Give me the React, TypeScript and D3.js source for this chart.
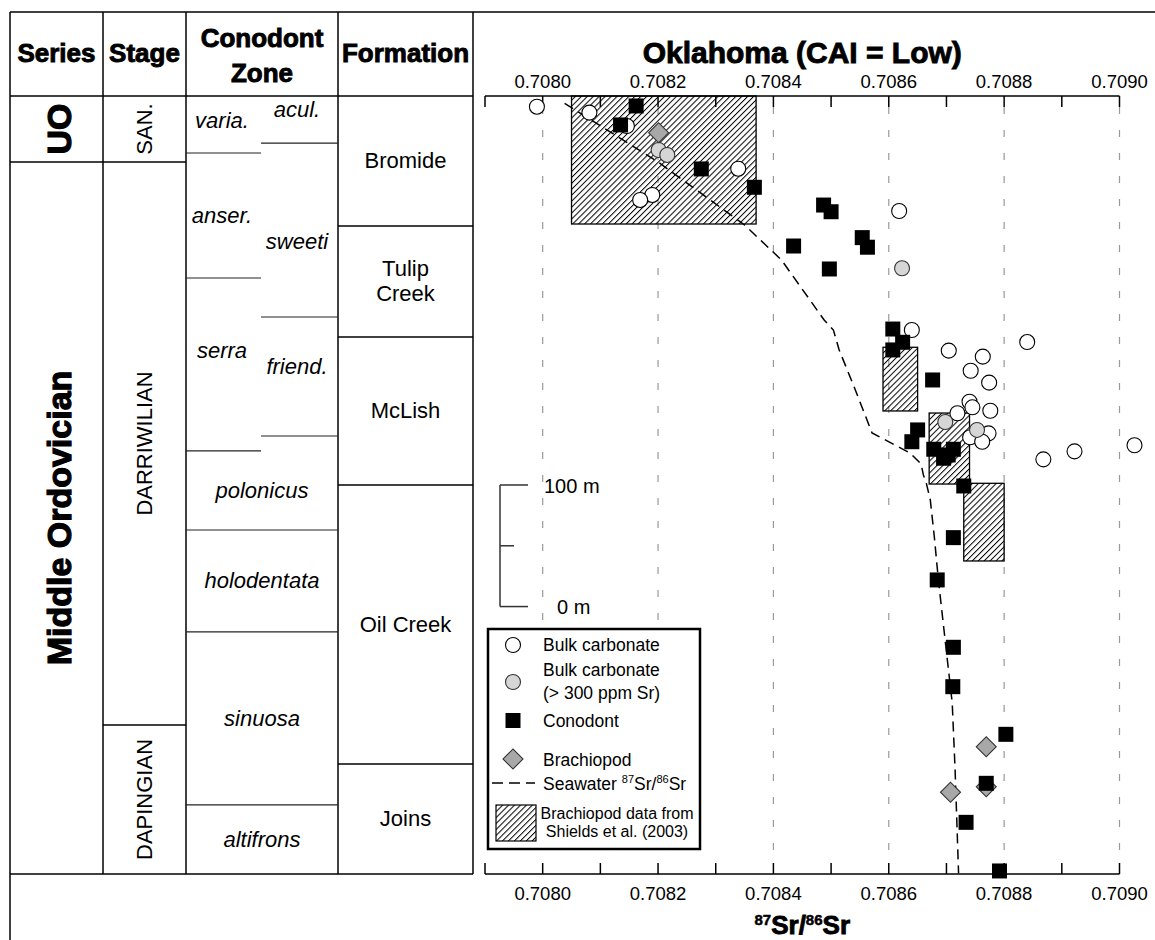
import React from 'react'
import * as d3 from 'd3'

// 87Sr/86Sr against stratigraphic height (m above the base of the section)
const ratioDomain: [number, number] = [0.7079, 0.709]
const heightDomain: [number, number] = [0, 640]
const axisLabels = ['0.7080', '0.7082', '0.7084', '0.7086', '0.7088', '0.7090']

const bulkCarbonate: [number, number][] = [
	[0.70799, 631.2], [0.708081, 626.3], [0.708146, 615.3], [0.708339, 580.2],
	[0.70819, 558.6], [0.708169, 554.5], [0.708618, 545.4], [0.70864, 447.5],
	[0.708704, 430.5], [0.708763, 425.6], [0.708742, 414.0], [0.708774, 404.2],
	[0.70874, 388.5], [0.708745, 383.9], [0.708719, 379.0], [0.708776, 381.1],
	[0.708741, 359.3], [0.708773, 362.5], [0.708762, 355.6], [0.70884, 437.6],
	[0.708868, 341.1], [0.708922, 347.7], [0.709026, 352.7]
]

const bulkHighSr: [number, number][] = [
	[0.708201, 595.6], [0.708216, 591.5], [0.708623, 498.3], [0.708698, 371.8], [0.708753, 365.3]
]

const brachiopod: [number, number][] = [
	[0.708201, 609.8], [0.708769, 104.7], [0.708769, 71.8], [0.708707, 67.2]
]

const conodont: [number, number][] = [
	[0.708162, 631.8], [0.708135, 616.2], [0.708275, 580.0], [0.708367, 564.9],
	[0.708435, 516.6], [0.708487, 550.3], [0.7085, 544.8], [0.708554, 523.5],
	[0.708563, 515.6], [0.708497, 497.7], [0.708607, 448.3], [0.708624, 437.4],
	[0.708607, 431.1], [0.708676, 406.4], [0.70865, 365.3], [0.70864, 355.6],
	[0.708678, 349.4], [0.708712, 349.4], [0.708695, 342.0], [0.708703, 344.7],
	[0.70873, 319.2], [0.708712, 276.7], [0.708684, 241.9], [0.708712, 186.5],
	[0.708711, 154.1], [0.708803, 114.9], [0.708769, 74.6], [0.708734, 42.5],
	[0.708792, 2.5]
]

const seawater: [number, number][] = [
	[0.708038, 634.0], [0.7082, 585.7], [0.70835, 533.9], [0.708414, 505.1],
	[0.708488, 455.7], [0.708504, 447.5], [0.708514, 431.1], [0.70854, 400.6],
	[0.708571, 362.8], [0.708637, 346.3], [0.708656, 337.3], [0.70866, 328.3],
	[0.708665, 321.7], [0.708672, 307.7], [0.708679, 277.2], [0.708686, 241.9],
	[0.708701, 178.5], [0.70871, 140.7], [0.708715, 85.6], [0.708721, 0.6]
]

// Shields et al. (2003): [ratio min, ratio max, height base, height top]
const shieldsBoxes: [number, number, number, number][] = [
	[0.70805, 0.70837, 534.7, 640],
	[0.70859, 0.70865, 380.9, 433.3],
	[0.70867, 0.70874, 320.8, 379.2],
	[0.70873, 0.7088, 257.5, 321.4]
]

// stratigraphy: [name, top, base] in m
const seriesUnits: [string, number, number][] = [
	['UO', 640, 585.7],
	['Middle Ordovician', 585.7, 0]
]
const stages: [string, number, number][] = [
	['SAN.', 640, 585.7],
	['DARRIWILIAN', 585.7, 122.6],
	['DAPINGIAN', 122.6, 0]
]
const zonesLeft: [string, number, number][] = [
	['varia.', 640, 593.1],
	['anser.', 593.1, 490.3],
	['serra', 490.3, 348.0]
]
const zonesRight: [string, number, number][] = [
	['acul.', 640, 601.3],
	['sweeti', 601.3, 458.2],
	['friend.', 458.2, 360.3]
]
const zonesFull: [string, number, number][] = [
	['polonicus', 348.0, 283.0],
	['holodentata', 283.0, 199.1],
	['sinuosa', 199.1, 56.8],
	['altifrons', 56.8, 0]
]
const formations: [string, number, number][] = [
	['Bromide', 640, 533.1],
	['Tulip Creek', 533.1, 441.8],
	['McLish', 441.8, 320.0],
	['Oil Creek', 320.0, 90.5],
	['Joins', 90.5, 0]
]

const scaleBarBase = 220
const scaleBarLength = 100

const FONT = 'Liberation Sans, Arial, Helvetica, sans-serif'

// small hand nudges for the split zone labels (px)
const zoneLabelShift: Record<string, number> = {
	'varia.': -4, 'acul.': -10, 'anser.': 0, sweeti: 11, serra: -14, 'friend.': -10
}

const App = () => {
	const x = d3.scaleLinear().domain(ratioDomain).range([485, 1119.5])
	const y = d3.scaleLinear().domain(heightDomain).range([874, 96])
	const ticks = x.ticks(11)
	const labelVals = axisLabels.map(Number)
	const fmt = d3.format('.4f')

	const seaPath = d3.line<[number, number]>().x((d) => x(d[0])).y((d) => y(d[1]))(seawater) || ''
	const square = d3.symbol().type(d3.symbolSquare).size(225)() || ''
	const diamond = d3.symbol().type(d3.symbolSquare).size(200)() || ''

	const col = [10, 103, 186, 338, 473]
	const zoneSplit = 261
	const xLeft = x.range()[0]
	const xRight = x.range()[1]
	const top = y(heightDomain[1])
	const bottom = y(heightDomain[0])

	const tableText = { fontFamily: FONT, fontSize: 22, fill: '#000' }
	const boldText = { fontFamily: FONT, fontWeight: 700, fill: '#000', stroke: '#000', strokeWidth: 0.9 }

	return (
		<svg width={1155} height={940} style={{ position: 'absolute', left: 0, top: 0, background: '#fff' }}>
			<defs>
				<pattern id="hatch" width={4.2} height={4.2} patternUnits="userSpaceOnUse" patternTransform="rotate(45)">
					<line x1={0.5} y1={-1} x2={0.5} y2={5.2} stroke="#000" strokeWidth={1} />
				</pattern>
			</defs>

			{/* frame */}
			<line x1={10} x2={1155} y1={12} y2={12} stroke="#000" strokeWidth={1.5} />
			<line x1={10} x2={10} y1={12} y2={940} stroke="#000" strokeWidth={1.5} />
			<line x1={10} x2={col[4]} y1={top} y2={top} stroke="#000" strokeWidth={1.5} />
			<line x1={10} x2={col[4]} y1={bottom} y2={bottom} stroke="#000" strokeWidth={1.5} />
			{col.slice(1).map((c) => (
				<line key={c} x1={c} x2={c} y1={12} y2={bottom} stroke="#000" strokeWidth={1.5} />
			))}

			{/* headers */}
			<g {...boldText} fontSize={26} textAnchor="middle">
				<text x={(col[0] + col[1]) / 2} y={62}>Series</text>
				<text x={(col[1] + col[2]) / 2} y={62}>Stage</text>
				<text x={(col[2] + col[3]) / 2} y={47}>Conodont</text>
				<text x={(col[2] + col[3]) / 2} y={82}>Zone</text>
				<text x={(col[3] + col[4]) / 2} y={62}>Formation</text>
			</g>

			{/* series */}
			{seriesUnits.map(([name, t, b], i) => {
				const cy = (y(t) + y(b)) / 2
				return (
					<g key={name}>
						{i < seriesUnits.length - 1 && (
							<line x1={col[0]} x2={col[2]} y1={y(b)} y2={y(b)} stroke="#000" strokeWidth={1.5} />
						)}
						<text {...boldText} strokeWidth={1.2} fontSize={34} textAnchor="middle" dominantBaseline="central"
							transform={`translate(${(col[0] + col[1]) / 2 + 2},${cy}) rotate(-90)`}>
							{name}
						</text>
					</g>
				)
			})}

			{/* stages */}
			{stages.map(([name, t, b], i) => {
				const cy = (y(t) + y(b)) / 2
				return (
					<g key={name}>
						{i === stages.length - 2 && (
							<line x1={col[1]} x2={col[2]} y1={y(b)} y2={y(b)} stroke="#000" strokeWidth={1.5} />
						)}
						<text {...tableText} textAnchor="middle" dominantBaseline="central"
							transform={`translate(${(col[1] + col[2]) / 2},${cy}) rotate(-90)`}>
							{name}
						</text>
					</g>
				)
			})}

			{/* conodont zones */}
			{zonesLeft.map(([name, t, b]) => (
				<g key={name}>
					<line x1={col[2]} x2={zoneSplit} y1={y(b)} y2={y(b)} stroke="#222" strokeWidth={1.2} />
					<text {...tableText} fontStyle="italic" textAnchor="middle" dominantBaseline="central"
						x={222} y={(y(t) + y(b)) / 2 + (zoneLabelShift[name] || 0)}>{name}</text>
				</g>
			))}
			{zonesRight.map(([name, t, b]) => (
				<g key={name}>
					<line x1={zoneSplit} x2={col[3]} y1={y(b)} y2={y(b)} stroke="#222" strokeWidth={1.2} />
					<text {...tableText} fontStyle="italic" textAnchor="middle" dominantBaseline="central"
						x={297} y={(y(t) + y(b)) / 2 + (zoneLabelShift[name] || 0)}>{name}</text>
				</g>
			))}
			{zonesFull.map(([name, t, b], i) => (
				<g key={name}>
					{i < zonesFull.length - 1 && (
						<line x1={col[2]} x2={col[3]} y1={y(b)} y2={y(b)} stroke="#222" strokeWidth={1.2} />
					)}
					<text {...tableText} fontStyle="italic" textAnchor="middle" dominantBaseline="central"
						x={(col[2] + col[3]) / 2} y={(Math.max(y(t), y(zonesLeft[2][2])) + y(b)) / 2}>{name}</text>
				</g>
			))}

			{/* formations */}
			{formations.map(([name, t, b], i) => {
				const cy = (y(t) + y(b)) / 2
				const words = name === 'Tulip Creek' ? ['Tulip', 'Creek'] : [name]
				return (
					<g key={name}>
						{i < formations.length - 1 && (
							<line x1={col[3]} x2={col[4]} y1={y(b)} y2={y(b)} stroke="#000" strokeWidth={1.5} />
						)}
						{words.map((w, j) => (
							<text key={w} {...tableText} textAnchor="middle" dominantBaseline="central"
								x={(col[3] + col[4]) / 2} y={cy + (j - (words.length - 1) / 2) * 25}>{w}</text>
						))}
					</g>
				)
			})}

			{/* grid */}
			{labelVals.map((v) => (
				<line key={v} x1={x(v)} x2={x(v)} y1={107} y2={863} stroke="#999" strokeWidth={1.2} strokeDasharray="7 16" />
			))}

			{/* Shields et al. boxes */}
			{shieldsBoxes.map(([a, b, h0, h1], i) => (
				<rect key={i} x={x(a)} y={y(h1)} width={x(b) - x(a)} height={y(h0) - y(h1)}
					fill="url(#hatch)" stroke="#000" strokeWidth={1.3} />
			))}

			{/* seawater curve */}
			<path d={seaPath} fill="none" stroke="#000" strokeWidth={1.5} strokeDasharray="10 6" />

			{/* axes */}
			<g stroke="#000" strokeWidth={1.5}>
				<line x1={xLeft} x2={xRight} y1={top} y2={top} />
				<line x1={xLeft} x2={xRight} y1={bottom} y2={bottom} />
				{ticks.map((t) => (
					<g key={t}>
						<line x1={x(t)} x2={x(t)} y1={top} y2={top + 11} />
						<line x1={x(t)} x2={x(t)} y1={bottom} y2={bottom - 11} />
					</g>
				))}
			</g>
			<g fontFamily={FONT} fontSize={18.5} textAnchor="middle" fill="#000">
				{labelVals.map((v) => (
					<g key={v}>
						<text x={x(v)} y={88}>{fmt(v)}</text>
						<text x={x(v)} y={900}>{fmt(v)}</text>
					</g>
				))}
			</g>
			<text {...boldText} fontSize={30} textAnchor="middle" x={(xLeft + xRight) / 2} y={63}>
				Oklahoma (CAI = Low)
			</text>
			<text {...boldText} fontSize={26} textAnchor="middle" x={(xLeft + xRight) / 2} y={934}>
				<tspan fontSize={15} strokeWidth={0.5} dy={-9}>87</tspan>
				<tspan dy={9}>Sr/</tspan>
				<tspan fontSize={15} strokeWidth={0.5} dy={-9}>86</tspan>
				<tspan dy={9}>Sr</tspan>
			</text>

			{/* scale bar */}
			<g stroke="#333" strokeWidth={1.5}>
				<line x1={500} x2={500} y1={y(scaleBarBase)} y2={y(scaleBarBase + scaleBarLength)} />
				<line x1={500} x2={528} y1={y(scaleBarBase)} y2={y(scaleBarBase)} />
				<line x1={500} x2={514} y1={y(scaleBarBase + scaleBarLength / 2)} y2={y(scaleBarBase + scaleBarLength / 2)} />
				<line x1={500} x2={528} y1={y(scaleBarBase + scaleBarLength)} y2={y(scaleBarBase + scaleBarLength)} />
			</g>
			<g fontFamily={FONT} fontSize={20} fill="#000">
				<text x={544} y={y(scaleBarBase + scaleBarLength) + 8}>{scaleBarLength} m</text>
				<text x={557} y={y(scaleBarBase) + 7}>0 m</text>
			</g>

			{/* data */}
			{bulkCarbonate.map(([v, h], i) => (
				<circle key={i} cx={x(v)} cy={y(h)} r={7.5} fill="#fff" stroke="#000" strokeWidth={1.1} />
			))}
			{bulkHighSr.map(([v, h], i) => (
				<circle key={i} cx={x(v)} cy={y(h)} r={7.5} fill="#d6d6d6" stroke="#333" strokeWidth={1.1} />
			))}
			{brachiopod.map(([v, h], i) => (
				<path key={i} d={diamond} transform={`translate(${x(v)},${y(h)}) rotate(45)`}
					fill="#a8a8a8" stroke="#333" strokeWidth={1.1} />
			))}
			{conodont.map(([v, h], i) => (
				<path key={i} d={square} transform={`translate(${x(v)},${y(h)})`} fill="#000" />
			))}

			{/* legend */}
			<g transform="translate(488,629)" fontFamily={FONT} fill="#000">
				<rect width={212} height={220} fill="#fff" stroke="#000" strokeWidth={2.5} />
				<circle cx={25} cy={16} r={7.5} fill="#fff" stroke="#000" strokeWidth={1.1} />
				<text x={55} y={22} fontSize={17.5}>Bulk carbonate</text>
				<circle cx={25} cy={53} r={7.5} fill="#d6d6d6" stroke="#333" strokeWidth={1.1} />
				<text x={55} y={47} fontSize={17.5}>Bulk carbonate</text>
				<text x={55} y={70} fontSize={17.5}>(&gt; 300 ppm Sr)</text>
				<path d={square} transform="translate(25,91.5)" fill="#000" />
				<text x={55} y={98} fontSize={17.5}>Conodont</text>
				<path d={diamond} transform="translate(25,130) rotate(45)" fill="#a8a8a8" stroke="#333" strokeWidth={1.1} />
				<text x={55} y={137} fontSize={17.5}>Brachiopod</text>
				<line x1={4} x2={47} y1={154} y2={154} stroke="#000" strokeWidth={1.4} strokeDasharray="11 6" />
				<text x={55} y={161} fontSize={17.5}>
					Seawater <tspan fontSize={11} dy={-7}>87</tspan>
					<tspan dy={7}>Sr/</tspan>
					<tspan fontSize={11} dy={-7}>86</tspan>
					<tspan dy={7}>Sr</tspan>
				</text>
				<rect x={8} y={176} width={40} height={36} fill="url(#hatch)" stroke="#000" strokeWidth={1.2} />
				<text x={129} y={190} fontSize={16} textAnchor="middle">Brachiopod data from</text>
				<text x={129} y={208} fontSize={16} textAnchor="middle">Shields et al. (2003)</text>
			</g>
		</svg>
	)
}

export default App
